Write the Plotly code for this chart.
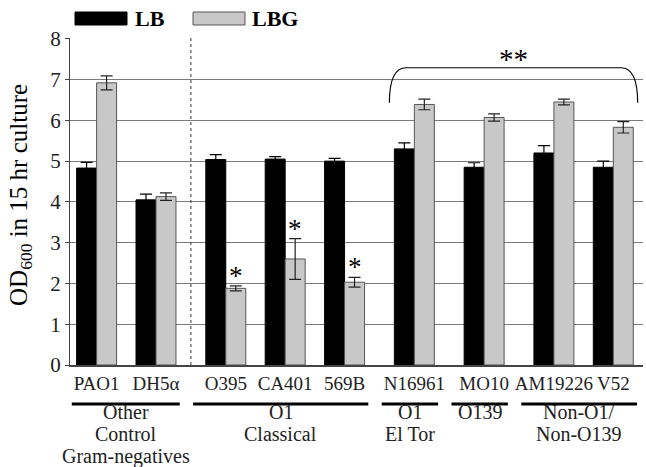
import plotly.graph_objects as go

categories = ["PAO1", "DH5α", "O395", "CA401", "569B", "N16961", "MO10", "AM19226", "V52"]
category_group = [0, 0, 1, 1, 1, 2, 3, 4, 4]
lb_values = [4.83, 4.05, 5.04, 5.05, 5.00, 5.30, 4.85, 5.20, 4.85]
lb_errors = [0.14, 0.14, 0.12, 0.06, 0.07, 0.15, 0.11, 0.18, 0.15]
lbg_values = [6.92, 4.13, 1.88, 2.60, 2.03, 6.39, 6.07, 6.45, 5.83]
lbg_errors = [0.17, 0.09, 0.06, 0.50, 0.12, 0.13, 0.09, 0.07, 0.14]
significant = ["O395", "CA401", "569B"]
group_labels = [["Other", "Control", "Gram-negatives"], ["O1", "Classical"], ["O1", "El Tor"], ["O139"],
                ["Non-O1/", "Non-O139"]]
y_ticks = [0, 1, 2, 3, 4, 5, 6, 7, 8]
bracket_first, bracket_last = "N16961", "V52"
bracket_label = "**"

W, H = 646, 467
ML, MR, MT, MB = 70, 3, 38, 102
XR = [-0.448, 9.2]
GROUP_GAP = 0.175
FONT = "Liberation Serif"
x = [i + GROUP_GAP * g for i, g in enumerate(category_group)]
BARGAP = 0.327
half_w = (1 - BARGAP) / 4

fig = go.Figure()
fig.add_trace(go.Bar(x=x, y=lb_values, name="LB", marker=dict(color="black", line=dict(color="black", width=1)),
                     error_y=dict(type="data", array=lb_errors, color="black", thickness=1.2, width=6)))
fig.add_trace(go.Bar(x=x, y=lbg_values, name="LBG", marker=dict(color="#c8c8c8", line=dict(color="#555555", width=1)),
                     error_y=dict(type="data", array=lbg_errors, color="#222222", thickness=1.2, width=6)))

pw = W - ML - MR
ph = H - MT - MB

def py_to_paper(py):
    return (H - MB - py) / ph

def px_to_paper(pxv):
    return (pxv - ML) / pw

shapes = []
annotations = []

# dotted separator between the control strains and V. cholerae strains
sep = (x[1] + x[2]) / 2
shapes.append(dict(type="line", xref="x", yref="paper", x0=sep, x1=sep, y0=0, y1=1,
                   line=dict(color="#333333", width=1, dash="dot")))

# group underlines and labels
for gi, lines in enumerate(group_labels):
    members = [x[i] for i, g in enumerate(category_group) if g == gi]
    x0 = max(members[0] - 0.55, XR[0] + 0.03)
    x1 = min(members[-1] + 0.40, XR[1])
    shapes.append(dict(type="line", xref="x", yref="paper", x0=x0, x1=x1,
                       y0=py_to_paper(404), y1=py_to_paper(404), line=dict(color="black", width=3)))
    for li, t in enumerate(lines):
        annotations.append(dict(x=(x0 + x1) / 2, y=py_to_paper(412 + 22 * li), xref="x", yref="paper", text=t,
                                showarrow=False, xanchor="center", yanchor="middle",
                                font=dict(family=FONT, size=20, color="#222222")))

# single significance stars
for c in significant:
    i = categories.index(c)
    annotations.append(dict(x=x[i] + half_w, y=lbg_values[i] + lbg_errors[i], xref="x", yref="y", text="*",
                            showarrow=False, xanchor="center", yanchor="bottom", yshift=-7,
                            font=dict(family=FONT, size=27, color="black")))

# bracket
bx0 = x[categories.index(bracket_first)] - 0.42
bx1 = x[categories.index(bracket_last)] + 0.41
yb, yt = 6.43, 7.29
dx = 0.28
path = f"M {bx0},{yb} Q {bx0},{yt} {bx0+dx},{yt} L {bx1-dx},{yt} Q {bx1},{yt} {bx1},{yb}"
shapes.append(dict(type="path", xref="x", yref="y", path=path, line=dict(color="black", width=1.2)))
annotations.append(dict(x=(bx0 + bx1) / 2, y=yt, xref="x", yref="y", text=bracket_label, showarrow=False,
                        xanchor="center", yanchor="bottom", yshift=-9,
                        font=dict(family=FONT, size=29, color="black")))

# legend (manual, wide swatches)
for (x0p, x1p, col, lc, lab, tx) in [(75, 127, "black", "black", "LB", 133),
                                      (193, 245, "#c8c8c8", "#555555", "LBG", 250)]:
    shapes.append(dict(type="rect", xref="paper", yref="paper", x0=px_to_paper(x0p), x1=px_to_paper(x1p),
                       y0=py_to_paper(25), y1=py_to_paper(12), fillcolor=col, line=dict(color=lc, width=1)))
    annotations.append(dict(x=px_to_paper(tx), y=py_to_paper(18.5), xref="paper", yref="paper", text=f"<b>{lab}</b>",
                            showarrow=False, xanchor="left", yanchor="middle",
                            font=dict(family=FONT, size=22, color="black")))

# y-axis title
annotations.append(dict(x=px_to_paper(21), y=0.52, xref="paper", yref="paper",
                        text="OD<sub>600</sub> in 15 hr culture", textangle=-90, showarrow=False,
                        xanchor="center", yanchor="middle", font=dict(family=FONT, size=25, color="black")))

fig.update_layout(
    width=W, height=H, margin=dict(l=ML, r=MR, t=MT, b=MB),
    paper_bgcolor="white", plot_bgcolor="white",
    barmode="group", bargap=BARGAP, bargroupgap=0,
    showlegend=False, shapes=shapes, annotations=annotations,
    font=dict(family=FONT, color="black"),
    xaxis=dict(range=XR, tickmode="array", tickvals=x, ticktext=categories, showgrid=False,
               showline=True, linecolor="#444444", linewidth=1.5, ticks="", zeroline=False, tickangle=0,
               tickfont=dict(family=FONT, size=19, color="#222222")),
    yaxis=dict(range=[0, 8.02], tickvals=y_ticks, showgrid=True, gridcolor="#7a7a7a", gridwidth=1,
               showline=True, linecolor="#444444", linewidth=1, ticks="outside", ticklen=4,
               tickcolor="#444444", zeroline=False,
               tickfont=dict(family=FONT, size=21, color="#222222")),
)

fig.write_html("out.html", config={"displayModeBar": False},
               post_script="document.body.style.margin='0';document.body.style.overflow='hidden';")
